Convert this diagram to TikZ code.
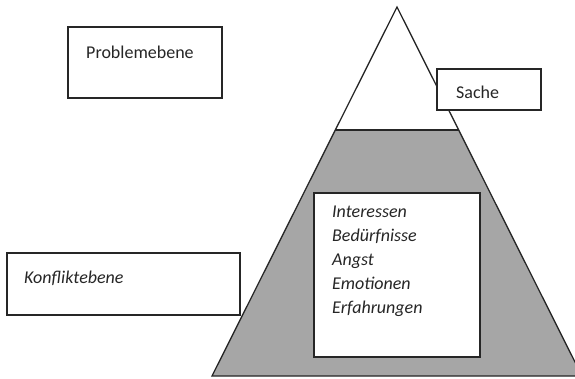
\documentclass[tikz,border=0pt]{standalone}
\usepackage{fontspec}
\setmainfont{Carlito}
\usetikzlibrary{calc}
\begin{document}
\begin{tikzpicture}[x=1pt,y=-1pt,
  line/.style={draw=black!85, line width=1.3pt},
  box/.style={line, fill=white},
  lbl/.style={anchor=west, inner sep=0pt, font=\fontsize{18}{22}\selectfont, text=black!85}]
\useasboundingbox (0,0) rectangle (575,378);
% triangle outline and gray band
\coordinate (apex) at (397,7);
\coordinate (bl) at (212,376);
\coordinate (br) at (582,376);
\coordinate (gl) at ($(apex)!{(130-7)/369}!(bl)$);
\coordinate (gr) at ($(apex)!{(130-7)/369}!(br)$);
\fill[black!35] (gl) -- (gr) -- (br) -- (bl) -- cycle;
\draw[line, line join=miter] (apex) -- (br) -- (bl) -- cycle;
\draw[line] (gl) -- (gr);
% boxes
\draw[box] (68,27) rectangle (222,98);
\node[lbl] (prob) at (86,52) {Problemebene};
\draw[box] (437,69) rectangle (541,110);
\node[lbl] (sache) at (456,92) {Sache};
\draw[box] (7,253) rectangle (240,315);
\node[lbl] (konf) at (24,278) {\itshape Konfliktebene};
\draw[box] (314,193) rectangle (480,357);
\node[lbl, anchor=north west, align=left, font=\fontsize{18}{24}\selectfont\itshape] (list) at (332,206)
  {Interessen\\Bedürfnisse\\Angst\\Emotionen\\Erfahrungen};
\end{tikzpicture}
\end{document}
